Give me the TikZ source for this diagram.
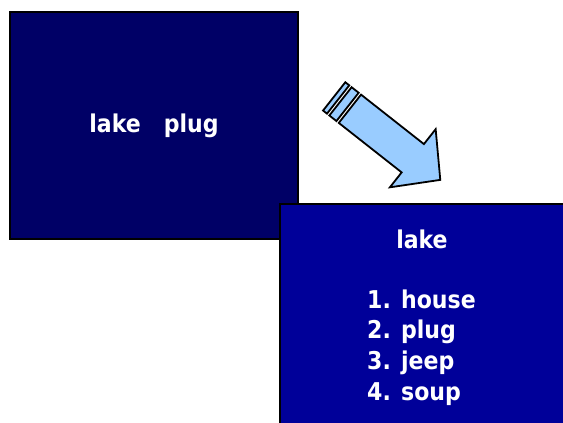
\documentclass[tikz,border=0pt]{standalone}
\usepackage{fontspec}
\setmainfont{DejaVu Sans Condensed}

\definecolor{navyslide}{HTML}{000066}
\definecolor{blueslide}{HTML}{000099}
\definecolor{arrowblue}{HTML}{99CCFF}

\begin{document}
\begin{tikzpicture}[x=1pt,y=-1pt]
    \tikzstyle{every node}+=[inner sep=0pt]
    \tikzstyle{slidebox}=[draw=black, line width=2.2pt, rectangle]
    \tikzstyle{wordtext}=[text=white, font=\bfseries\fontsize{24.5}{28}\selectfont]
    \tikzstyle{arrowpart}=[draw=black, line width=1.8pt, fill=arrowblue, line join=miter]
    \useasboundingbox (0,0) rectangle (563,423);
    \clip (0,0) rectangle (563,423);
    % first list
    \node [slidebox, fill=navyslide, minimum width=288pt, minimum height=227pt] (study) at (154,125.5) {};
    \node [wordtext, anchor=base] (studyWords) at (154,132) {lake\ \ \ plug};
    % block arrow
    \begin{scope}[shift={(334.2,96.4)}, rotate=-38.2]
        \draw [arrowpart] (0,-18) -- (5,-18) -- (5,18) -- (0,18) -- cycle;
        \draw [arrowpart] (8,-18) -- (17,-18) -- (17,18) -- (8,18) -- cycle;
        \draw [arrowpart] (20,-18) -- (100,-18) -- (100,-37) -- (135,0) -- (100,37) -- (100,18) -- (20,18) -- cycle;
    \end{scope}
    % recall list
    \node [slidebox, fill=blueslide, minimum width=310pt, minimum height=250pt, anchor=north west] (recall) at (279,202.5) {};
    \node [wordtext, anchor=base] (lakeTitle) at (422,248) {lake};
    \foreach \n/\w in {1/house,2/plug,3/jeep,4/soup}
        \node [wordtext, anchor=base west] (item\n) at (367,{277.5+30.7*\n}) {\n. \w};
\end{tikzpicture}
\end{document}
